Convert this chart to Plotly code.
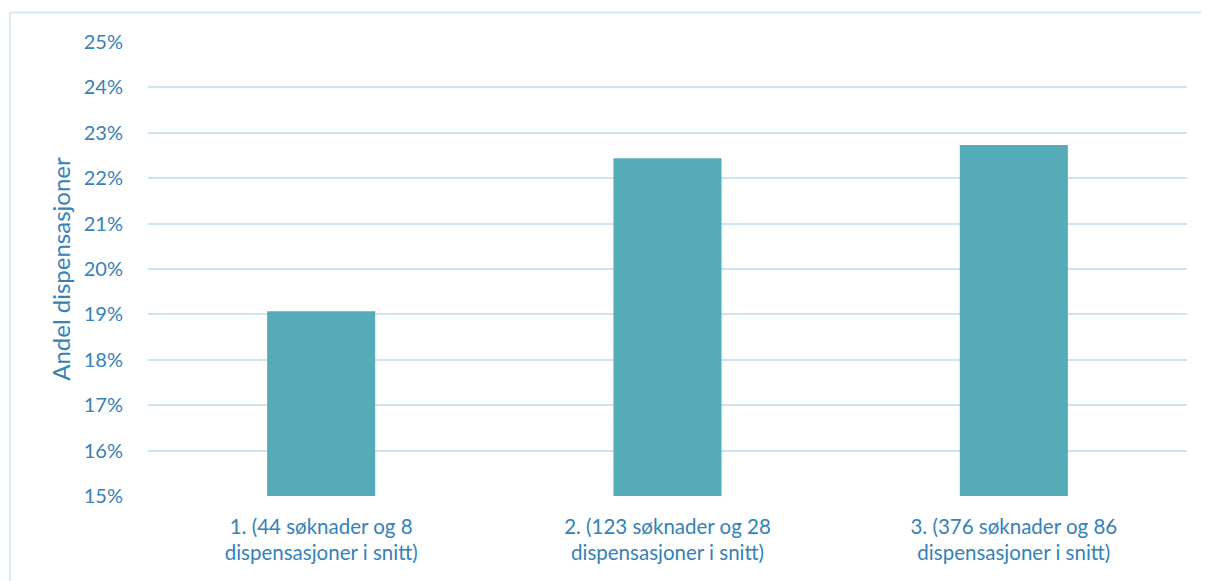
import plotly.graph_objects as go

categories = ["1. (44 søknader og 8<br>dispensasjoner i snitt)",
              "2. (123 søknader og 28<br>dispensasjoner i snitt)",
              "3. (376 søknader og 86<br>dispensasjoner i snitt)"]
values = [0.1907, 0.2244, 0.2273]
y_title = "Andel dispensasjoner"

text_color = "#3581B8"
bar_color = "#55ACB8"
grid_color = "#D0E3F1"
font_family = "Lato, 'Open Sans', sans-serif"

fig = go.Figure(go.Bar(x=categories, y=values, marker=dict(color=bar_color, line=dict(width=0)),
                       width=0.312))

# page body has an 8px default margin, so the figure is drawn 8px smaller
OFF = 8
W, H = 1209 - OFF, 581 - OFF
L, R, T, B = 148 - OFF, 22, 41.5 - OFF, 85
pw, ph = W - L - R, H - T - B

fig.update_layout(
    width=W, height=H,
    margin=dict(l=L, r=R, t=T, b=B, pad=0),
    paper_bgcolor="white", plot_bgcolor="white",
    font=dict(family=font_family, size=20, color=text_color),
    showlegend=False,
    xaxis=dict(showgrid=False, showline=False, ticks="outside", ticklen=12,
               tickcolor="rgba(0,0,0,0)", tickfont=dict(size=20.5, color=text_color)),
    yaxis=dict(range=[0.15, 0.25], dtick=0.01, tickformat=".0%", showgrid=True,
               gridcolor=grid_color, gridwidth=1.5, zeroline=False, showline=False,
               ticks="outside", ticklen=20, tickcolor="rgba(0,0,0,0)",
               tickfont=dict(size=20, color=text_color),
               title=dict(text=y_title, font=dict(size=24, color=text_color), standoff=6)),
    shapes=[dict(type="rect", xref="paper", yref="paper",
                 x0=(10 - OFF - L) / pw, x1=(W + 20 - L) / pw,
                 y0=-(H + 20 - (T + ph)) / ph, y1=(T + ph - (12 - OFF)) / ph,
                 line=dict(color="#D0E3F0", width=1.5), layer="below")],
)

fig.write_html("out.html")
